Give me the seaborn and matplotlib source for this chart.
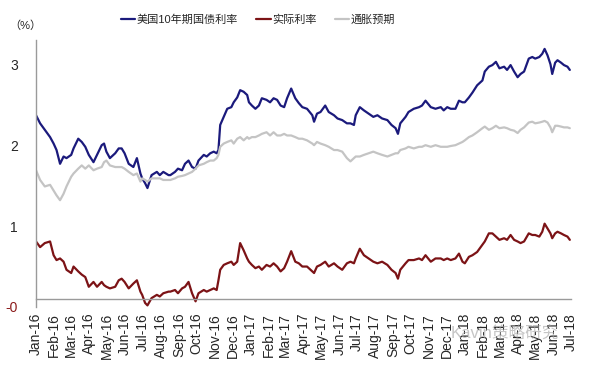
import pandas as pd
import numpy as np
import seaborn as sns
import matplotlib
matplotlib.use("Agg")
import matplotlib.pyplot as plt
import matplotlib.dates as mdates

# %%
dates = [
    "2016-01-01", "2016-01-08", "2016-01-16", "2016-01-25", "2016-01-31", "2016-02-05", "2016-02-11", "2016-02-17",
    "2016-02-22", "2016-03-01", "2016-03-05", "2016-03-13", "2016-03-19", "2016-03-25", "2016-03-31", "2016-04-08",
    "2016-04-14", "2016-04-22", "2016-04-26", "2016-04-30", "2016-05-06", "2016-05-15", "2016-05-21", "2016-05-26",
    "2016-05-31", "2016-06-07", "2016-06-15", "2016-06-21", "2016-06-27", "2016-06-30", "2016-07-05", "2016-07-09",
    "2016-07-16", "2016-07-25", "2016-07-30", "2016-08-05", "2016-08-14",
    "2016-08-17", "2016-08-25", "2016-08-30", "2016-09-06", "2016-09-11", "2016-09-17", "2016-09-23", "2016-09-29",
    "2016-10-04", "2016-10-13", "2016-10-18", "2016-10-24", "2016-10-30", "2016-11-04", "2016-11-07", "2016-11-10",
    "2016-11-16", "2016-11-22", "2016-11-29", "2016-12-03", "2016-12-09", "2016-12-14", "2016-12-20", "2016-12-26",
    "2016-12-29", "2017-01-03", "2017-01-09", "2017-01-15", "2017-01-20", "2017-01-28", "2017-02-03", "2017-02-09",
    "2017-02-15", "2017-02-21", "2017-02-27", "2017-03-04", "2017-03-11", "2017-03-18", "2017-03-24", "2017-03-30",
    "2017-04-07", "2017-04-16", "2017-04-19", "2017-04-24", "2017-04-30", "2017-05-08", "2017-05-14", "2017-05-23",
    "2017-05-29", "2017-06-06", "2017-06-14", "2017-06-20", "2017-06-26", "2017-06-29", "2017-07-06", "2017-07-13",
    "2017-07-21", "2017-07-29", "2017-08-05", "2017-08-13", "2017-08-22", "2017-08-29", "2017-09-05", "2017-09-09",
    "2017-09-13", "2017-09-22", "2017-09-27", "2017-10-06", "2017-10-15", "2017-10-20", "2017-10-26", "2017-11-04",
    "2017-11-12", "2017-11-21",
    "2017-11-26", "2017-12-02", "2017-12-08", "2017-12-16", "2017-12-22", "2017-12-28", "2018-01-01", "2018-01-08",
    "2018-01-14", "2018-01-22", "2018-01-31", "2018-02-04", "2018-02-11", "2018-02-17", "2018-02-23", "2018-03-01",
    "2018-03-09", "2018-03-14", "2018-03-20", "2018-03-26", "2018-04-01", "2018-04-06", "2018-04-12", "2018-04-20",
    "2018-04-26", "2018-05-01", "2018-05-08", "2018-05-13", "2018-05-17", "2018-05-22", "2018-05-27", "2018-05-30",
    "2018-06-04", "2018-06-08", "2018-06-14", "2018-06-19", "2018-06-25", "2018-06-29",
]

us10y = [
    2.27, 2.17, 2.09, 2.00, 1.92, 1.84, 1.67, 1.76, 1.74, 1.78, 1.86, 1.98, 1.94, 1.88, 1.78, 1.69,
    1.78, 1.90, 1.92, 1.82, 1.74, 1.80, 1.86, 1.86, 1.80, 1.67, 1.63, 1.74, 1.55, 1.49, 1.43, 1.37,
    1.53, 1.57, 1.53, 1.57, 1.53,
    1.53, 1.57, 1.61, 1.59, 1.67, 1.71, 1.63, 1.61, 1.71, 1.78, 1.76, 1.80, 1.82, 1.80, 1.84, 2.15,
    2.25, 2.35, 2.37, 2.43, 2.49, 2.58, 2.56, 2.52, 2.43, 2.39, 2.35, 2.39, 2.48, 2.46, 2.43, 2.48,
    2.46, 2.39, 2.37, 2.48, 2.60, 2.48, 2.42, 2.37,
    2.35, 2.27, 2.19, 2.29, 2.31, 2.39, 2.31, 2.27, 2.23, 2.21, 2.17, 2.17, 2.15, 2.27, 2.37, 2.33,
    2.29, 2.25, 2.27, 2.23, 2.21, 2.15, 2.11, 2.04, 2.17, 2.25, 2.31, 2.35, 2.37, 2.39, 2.45, 2.37,
    2.35, 2.37,
    2.33, 2.37, 2.35, 2.35, 2.45, 2.43, 2.43, 2.49, 2.55, 2.64, 2.70, 2.81, 2.87, 2.89, 2.93, 2.85,
    2.87, 2.83, 2.89, 2.81, 2.74, 2.78, 2.81, 2.97, 2.99, 2.97, 2.99, 3.03, 3.09, 3.01, 2.90, 2.78,
    2.92, 2.95, 2.92, 2.89, 2.87, 2.83,
]

real_rate = [
    0.71, 0.64, 0.69, 0.71, 0.54, 0.48, 0.50, 0.46, 0.36, 0.32, 0.40, 0.34, 0.30, 0.27, 0.15, 0.21,
    0.15, 0.21, 0.17, 0.15, 0.13, 0.15, 0.23, 0.25, 0.21, 0.13, 0.19, 0.23, 0.09, 0.05, -0.05, -0.08,
    0.01, 0.05, 0.03, 0.07, 0.09,
    0.09, 0.11, 0.07, 0.13, 0.15, 0.21, 0.07, -0.03, 0.07, 0.11, 0.09, 0.11, 0.13, 0.11, 0.23, 0.36,
    0.42, 0.44, 0.46, 0.42, 0.46, 0.69, 0.60, 0.50, 0.46, 0.42, 0.38, 0.40, 0.36, 0.42, 0.40, 0.44,
    0.40, 0.34, 0.38, 0.46, 0.59, 0.46, 0.44, 0.40,
    0.40, 0.34, 0.32, 0.40, 0.42, 0.46, 0.40, 0.44, 0.40, 0.36, 0.44, 0.46, 0.44, 0.50, 0.62, 0.54,
    0.50, 0.46, 0.44, 0.46, 0.42, 0.36, 0.32, 0.25, 0.36, 0.44, 0.48, 0.48, 0.50, 0.48, 0.54, 0.46,
    0.50, 0.50,
    0.48, 0.50, 0.48, 0.50, 0.56, 0.46, 0.44, 0.52, 0.54, 0.58, 0.67, 0.71, 0.81, 0.81, 0.77, 0.73,
    0.75, 0.73, 0.79, 0.73, 0.71, 0.69, 0.71, 0.81, 0.79, 0.79, 0.77, 0.83, 0.93, 0.87, 0.81, 0.75,
    0.81, 0.83, 0.81, 0.79, 0.77, 0.73,
]

inflation_exp = [
    1.59, 1.47, 1.39, 1.41, 1.34, 1.28, 1.22, 1.30, 1.39, 1.51, 1.55, 1.61, 1.65, 1.61, 1.65, 1.59,
    1.61, 1.63, 1.69, 1.71, 1.65, 1.63, 1.63, 1.63, 1.61, 1.57, 1.53, 1.55, 1.45, 1.49, 1.47, 1.45,
    1.49, 1.49, 1.49, 1.47, 1.47,
    1.47, 1.49, 1.51, 1.52, 1.53, 1.55, 1.57, 1.61, 1.65, 1.67, 1.69, 1.71, 1.71, 1.74, 1.78, 1.88,
    1.92, 1.94, 1.96, 1.92, 1.98, 2.00, 1.96, 2.00, 1.98, 2.00, 2.00, 2.02, 2.04, 2.06, 2.02, 2.06,
    2.02, 2.02, 2.04, 2.02, 2.02, 2.00, 1.98, 1.98,
    1.96, 1.92, 1.90, 1.94, 1.92, 1.90, 1.88, 1.84, 1.84, 1.82, 1.74, 1.70, 1.74, 1.76, 1.76, 1.78,
    1.80, 1.82, 1.80, 1.78, 1.76, 1.78, 1.80, 1.80, 1.84, 1.86, 1.88, 1.86, 1.88, 1.88, 1.90, 1.88,
    1.90, 1.88,
    1.88, 1.88, 1.89, 1.90, 1.92, 1.94, 1.96, 2.00, 2.02, 2.06, 2.11, 2.13, 2.09, 2.11, 2.14, 2.11,
    2.12, 2.11, 2.09, 2.08, 2.05, 2.09, 2.12, 2.18, 2.19, 2.17, 2.18, 2.19, 2.20, 2.18, 2.12, 2.06,
    2.14, 2.14, 2.13, 2.12, 2.12, 2.11,
]

series_names = ["美国10年期国债利率", "实际利率", "通胀预期"]
series_colors = ["#1b1a7c", "#7c1316", "#c4c4c4"]

# y axis in the source starts at -0.1 with a major unit of 1
ytick_values = [-0.1, 0.9, 1.9, 2.9]
ytick_labels = ["-0", "1", "2", "3"]

# %%
df = pd.DataFrame({
    "date": pd.to_datetime(dates),
    series_names[0]: us10y,
    series_names[1]: real_rate,
    series_names[2]: inflation_exp,
})
long_df = df.melt(id_vars="date", var_name="series", value_name="value")

sns.set_style("white")
plt.rcParams["font.family"] = ["Liberation Sans", "Noto Sans CJK SC", "DejaVu Sans"]
plt.rcParams["axes.unicode_minus"] = False

fig = plt.figure(figsize=(6.01, 3.72), dpi=100)
ax = fig.add_axes([36 / 601, 65 / 372, 535 / 601, 267 / 372])

sns.lineplot(data=long_df, x="date", y="value", hue="series", hue_order=series_names,
             palette=series_colors, linewidth=1.6, ax=ax)

ax.set_xlim(pd.Timestamp("2016-01-01"), pd.Timestamp("2018-07-01"))
ax.set_ylim(-0.1, 3.2)
ax.set_xlabel("")
ax.set_ylabel("")

ax.set_yticks(ytick_values)
ax.set_yticklabels(ytick_labels)
ax.get_yticklabels()[0].set_color("#8b1a1a")

ax.xaxis.set_major_locator(mdates.MonthLocator())
ax.xaxis.set_major_formatter(mdates.DateFormatter("%b-%y"))

ax.spines["top"].set_visible(False)
ax.spines["right"].set_visible(False)
ax.spines["bottom"].set_position(("data", 0))
for side in ["left", "bottom"]:
    ax.spines[side].set_color("#9a9a9a")
    ax.spines[side].set_linewidth(1.0)

ax.tick_params(axis="x", direction="out", length=3, width=0.8, color="#9a9a9a", pad=7,
               labelsize=10, labelrotation=90)
ax.tick_params(axis="y", direction="out", length=4, width=0.8, color="#9a9a9a", pad=9, labelsize=10)

handles, labels = ax.get_legend_handles_labels()
ax.legend(handles, labels, loc="center", bbox_to_anchor=(258 / 601, 1 - 20 / 372),
          bbox_transform=fig.transFigure, ncol=3, frameon=False, fontsize=8,
          handlelength=1.3, handletextpad=0.15, columnspacing=1.6)

fig.text(25 / 601, 1 - 26 / 372, "（%）", ha="center", va="center", fontsize=8)
fig.text(505 / 601, 1 - 333 / 372, "Kavin策略研究", ha="center", va="center",
         fontsize=12, color="#a0a0a0", alpha=0.6)

fig.savefig("out.png", dpi=100)
